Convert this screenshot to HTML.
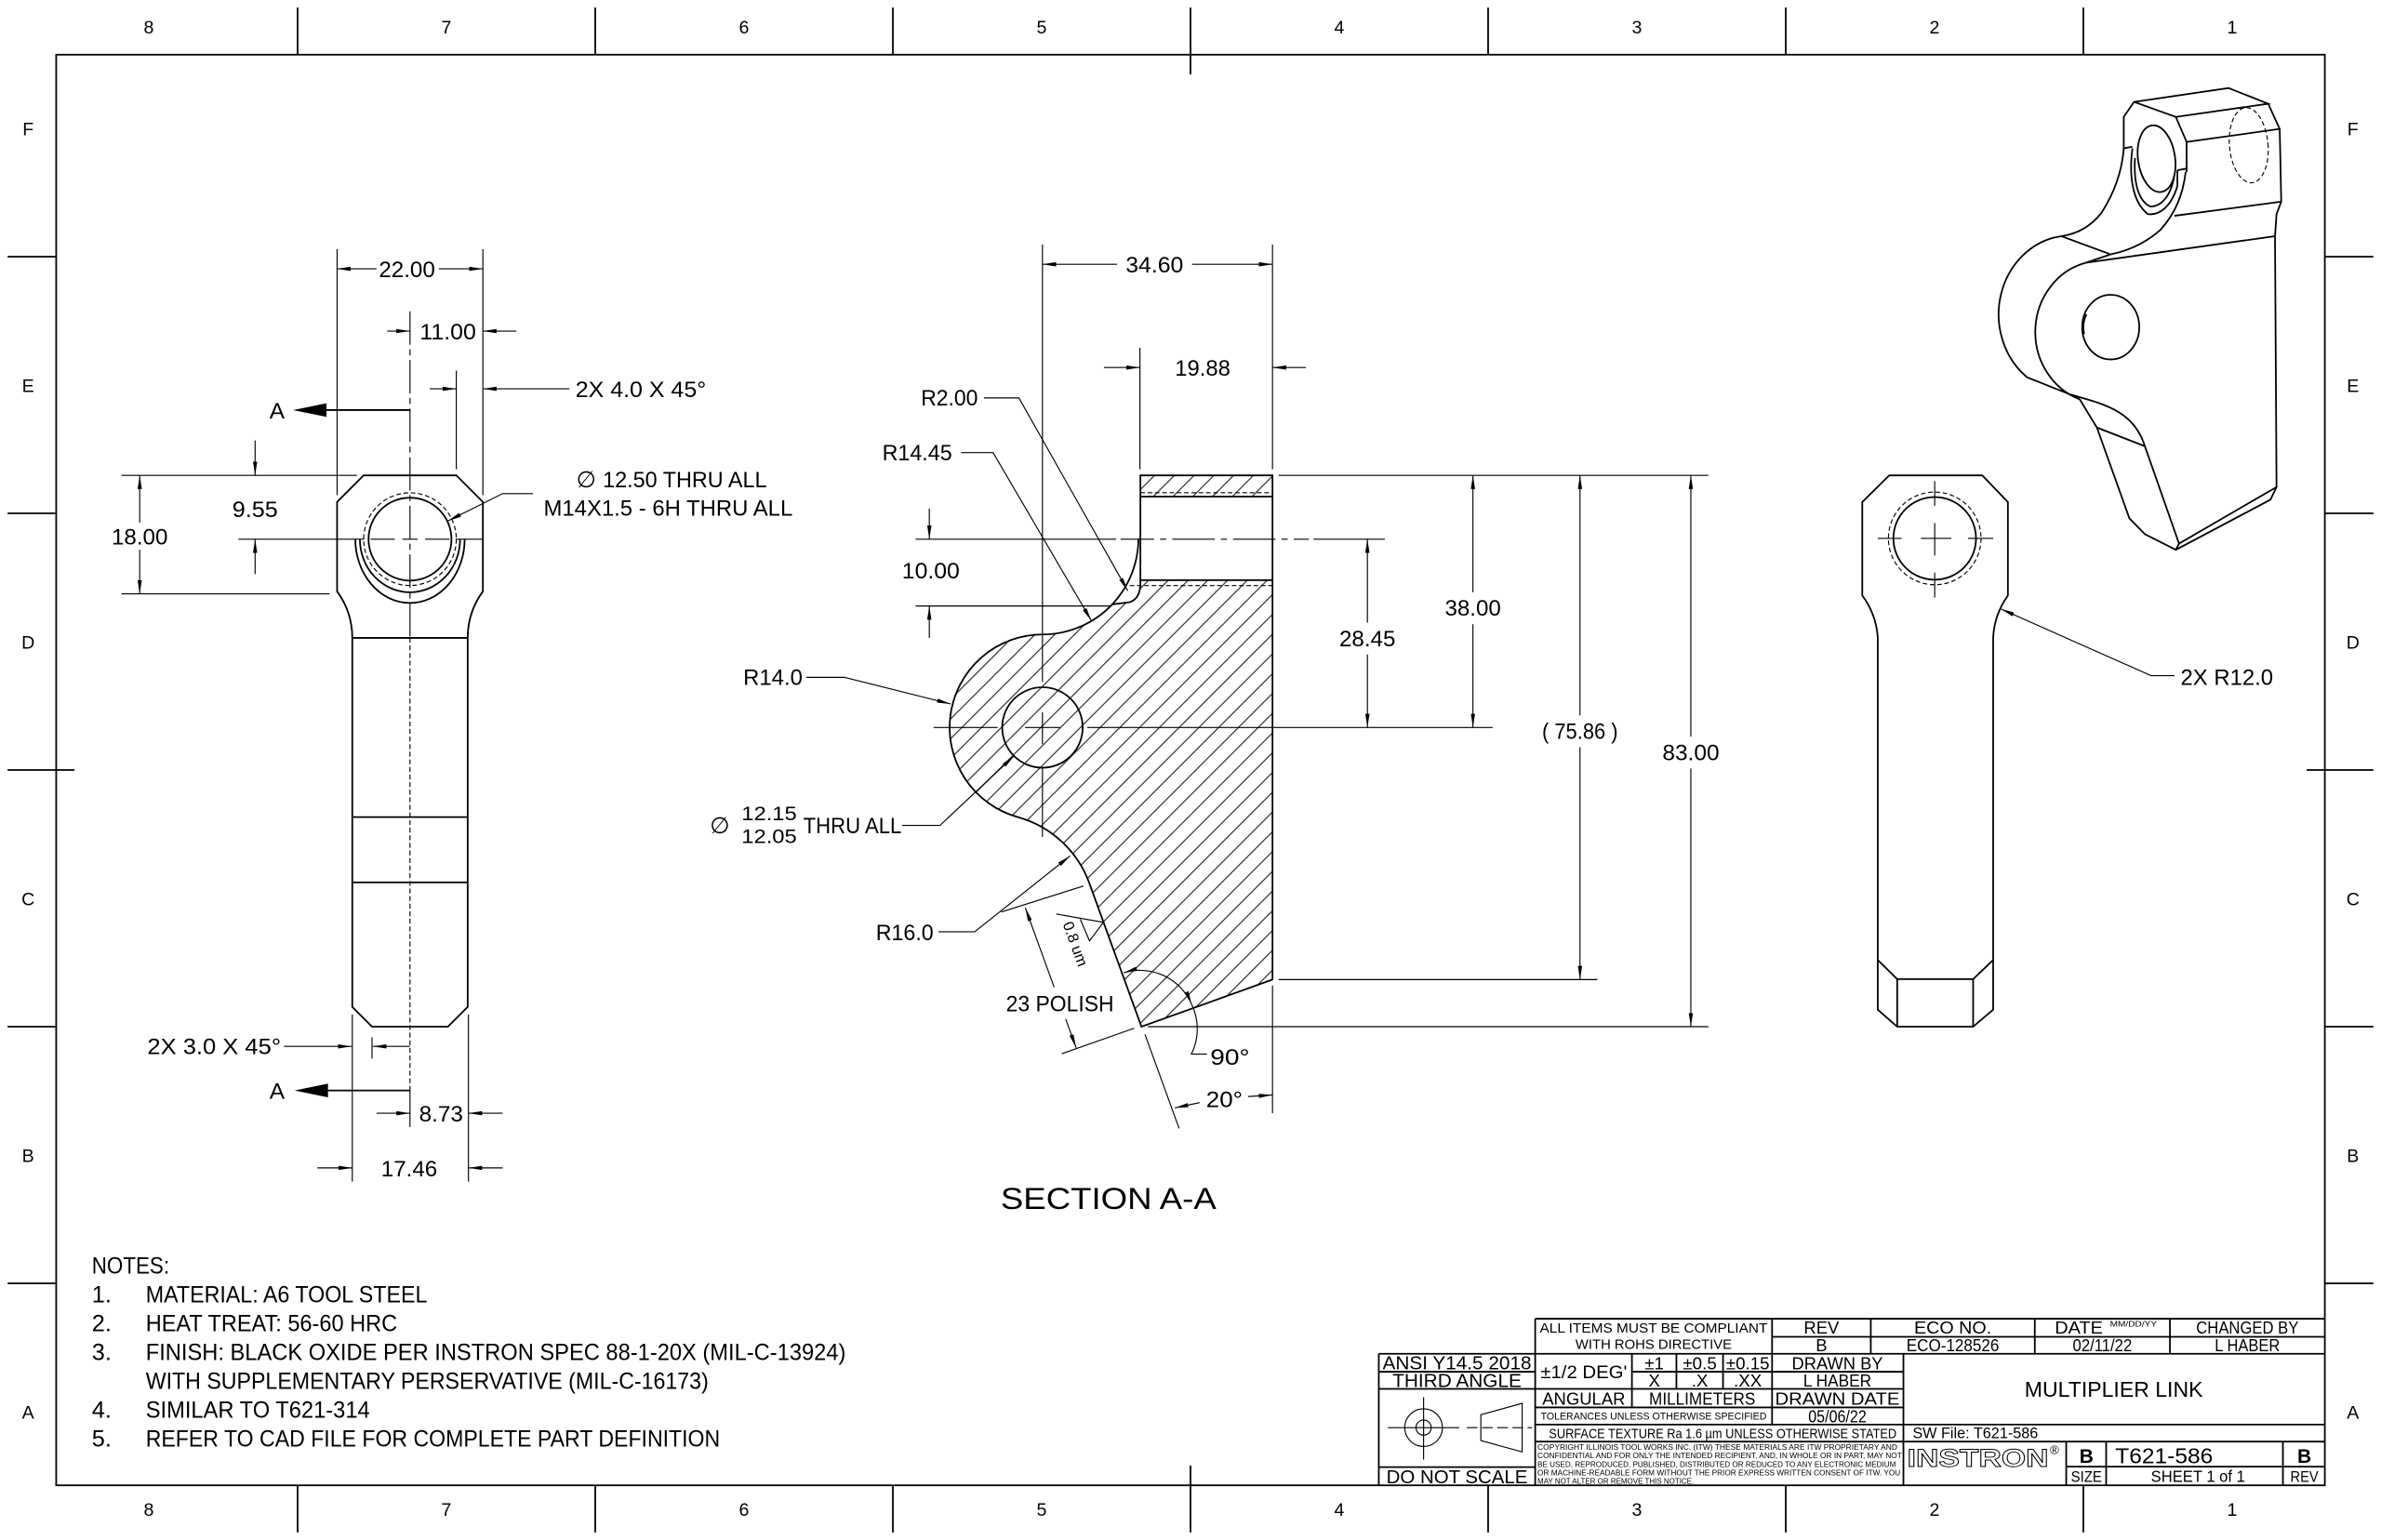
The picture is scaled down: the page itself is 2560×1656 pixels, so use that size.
<!DOCTYPE html>
<html><head><meta charset="utf-8"><style>html,body{margin:0;padding:0;background:#fff}svg{display:block}</style></head>
<body>
<svg xmlns="http://www.w3.org/2000/svg" width="2560" height="1656" viewBox="0 0 1568 1014" preserveAspectRatio="none">
<defs>
<marker id="m" viewBox="0 0 9 2.8" refX="9" refY="1.4" markerWidth="9" markerHeight="2.8" markerUnits="userSpaceOnUse" orient="auto-start-reverse"><path d="M0,0L9,1.4L0,2.8Z" fill="#000"/></marker>
<pattern id="hat" patternUnits="userSpaceOnUse" width="9.2" height="9.2" patternTransform="rotate(45)"><line x1="4.6" y1="-1" x2="4.6" y2="10.2" stroke="#000" stroke-width="0.6"/></pattern>
</defs>
<style>
.k{fill:none;stroke:#000;stroke-width:1.1}
.n{fill:none;stroke:#000;stroke-width:0.7}
.d{stroke-dasharray:3 1.8}
.a{marker-end:url(#m)}
text{font-family:"Liberation Sans",Arial,sans-serif;fill:#000}
.dt{font-size:15px}
.tb{font-size:11.3px}
</style>
<rect x="0" y="0" width="1568" height="1014" fill="#fff"/>

<!-- FRAME -->
<rect x="37" y="36" width="1494" height="942" class="k"/>
<path class="k" d="M196,5V36M392,5V36M588,5V36M784,5V49M980,5V36M1176,5V36M1372,5V36M196,978V1009M392,978V1009M588,978V1009M784,965V1009M980,978V1009M1176,978V1009M1372,978V1009M5,169H37M5,338H37M5,507H49M5,676H37M5,845H37M1531,169H1563M1531,338H1563M1519,507H1563M1531,676H1563M1531,845H1563"/>
<g font-size="12" text-anchor="middle">
<text x="98" y="22">8</text><text x="294" y="22">7</text><text x="490" y="22">6</text><text x="686" y="22">5</text><text x="882" y="22">4</text><text x="1078" y="22">3</text><text x="1274" y="22">2</text><text x="1470" y="22">1</text>
<text x="98" y="998">8</text><text x="294" y="998">7</text><text x="490" y="998">6</text><text x="686" y="998">5</text><text x="882" y="998">4</text><text x="1078" y="998">3</text><text x="1274" y="998">2</text><text x="1470" y="998">1</text>
<text x="18.5" y="89">F</text><text x="18.5" y="258">E</text><text x="18.5" y="427">D</text><text x="18.5" y="596">C</text><text x="18.5" y="765">B</text><text x="18.5" y="934">A</text>
<text x="1549.5" y="89">F</text><text x="1549.5" y="258">E</text><text x="1549.5" y="427">D</text><text x="1549.5" y="596">C</text><text x="1549.5" y="765">B</text><text x="1549.5" y="934">A</text>
</g>

<!-- LEFT VIEW -->
<path class="k" d="M239.5,313H300.5L318,330.5V389.4A52,52 0 0 0 308,420V663L295,676H245L232,663V420A52,52 0 0 0 222,389.4V330.5Z"/>
<path class="k" stroke-width="0.9" d="M232,420H308M232,538H308M232,581H308"/>
<circle cx="270" cy="355" r="27.3" class="k"/>
<circle cx="270" cy="355" r="30.5" class="n d"/>
<path class="k" d="M234,355A36,42 0 0 0 306,355M237,355A33,35 0 0 0 303,355"/>
<path class="n" d="M157,355H240M244,355H260M265,355H275M280,355H296M300,355H318"/>
<line x1="270" y1="205" x2="270" y2="420" class="n" stroke-dasharray="22 3 4 3"/>
<line x1="270" y1="420" x2="270" y2="718" class="n" stroke-dasharray="3.2 1.8"/>
<line x1="270" y1="718" x2="270" y2="742" class="n"/>
<path class="n" d="M222,164V326M318,164V326M300.5,244V309M80,313H235M80,391H217M232,668V778M308.5,668V778M245,683V697"/>
<path class="n a" d="M248,177H222"/><path class="n a" d="M289,177H318"/>
<path class="n a" d="M255,218H270"/><path class="n a" d="M340,218H318"/>
<path class="n a" d="M283,256H300.5"/><path class="n a" d="M375,256H318"/>
<path class="n a" d="M168,290V313"/><path class="n a" d="M168,378V355"/>
<path class="n a" d="M92,344V313"/><path class="n a" d="M92,362V391"/>
<path class="n a" d="M351,325H331L295,343"/>
<path class="n a" d="M187,689H231.5"/><path class="n a" d="M270,689H245.5"/>
<path class="n a" d="M248,733H270"/><path class="n a" d="M331,733H308.5"/>
<path class="n a" d="M209,769H232"/><path class="n a" d="M331,769H308.5"/>
<path d="M193,270L215,265.5V274.5Z" fill="#000"/><line x1="215" y1="270" x2="270" y2="270" class="k"/>
<path d="M194,718L216,713.5V722.5Z" fill="#000"/><line x1="216" y1="718" x2="270" y2="718" class="k"/>
<g class="dt">
<text x="268" y="182.5" text-anchor="middle" textLength="37" lengthAdjust="spacingAndGlyphs">22.00</text>
<text x="295" y="223.5" text-anchor="middle" textLength="37" lengthAdjust="spacingAndGlyphs">11.00</text>
<text x="379" y="261.5" textLength="86" lengthAdjust="spacingAndGlyphs">2X 4.0 X 45°</text>
<text x="177.5" y="275.5">A</text>
<text x="168" y="340.5" text-anchor="middle" textLength="30" lengthAdjust="spacingAndGlyphs">9.55</text>
<text x="92" y="358.5" text-anchor="middle" textLength="37" lengthAdjust="spacingAndGlyphs">18.00</text>
<text x="379.5" y="321">∅</text>
<text x="397" y="321" textLength="108" lengthAdjust="spacingAndGlyphs">12.50 THRU ALL</text>
<text x="358" y="339.5" textLength="164" lengthAdjust="spacingAndGlyphs">M14X1.5 - 6H THRU ALL</text>
<text x="97" y="694" textLength="88" lengthAdjust="spacingAndGlyphs">2X 3.0 X 45°</text>
<text x="177.5" y="723.5">A</text>
<text x="276" y="738.5" textLength="29" lengthAdjust="spacingAndGlyphs">8.73</text>
<text x="269.5" y="774.5" text-anchor="middle" textLength="37" lengthAdjust="spacingAndGlyphs">17.46</text>
</g>

<!-- SECTION VIEW -->
<path fill="url(#hat)" d="M751,382H838V645L751.7,676L717.4,581.6A70,70 0 0 0 670.2,538A61.25,61.25 0 0 1 686.5,417.75A63.2,63.2 0 0 0 732.4,398L744,396.5Q751,394 751,384Z"/>
<rect x="751" y="313" width="87" height="14" fill="url(#hat)"/>
<circle cx="686.5" cy="479" r="26.5" fill="#fff" class="k"/>
<path class="k" d="M751,384V313H838V645L751.7,676L717.4,581.6A70,70 0 0 0 670.2,538A61.25,61.25 0 0 1 686.5,417.75A63.2,63.2 0 0 0 732.4,398L744,396.5Q751,394 751,384"/>
<path class="k" d="M751,327H838M751,382H838"/>
<path class="n d" d="M751,324.4H838M744,385.6H838"/>
<path class="k" d="M732.4,398A63.2,63.2 0 0 0 749.7,354.5"/>
<path class="n" d="M686.5,161V449M686.5,469V490M686.5,505V551M614.8,479H657M675,479H698M716,479H983"/>
<path class="n" d="M738,355H760M764,355H768M772,355H800M804,355H808M812,355H840M844,355H848M852,355H862M865,355H912"/>
<path class="n" d="M838,161V309M750.7,229V309M603,355H735M603,399H732M842,313H1125M842,645H1052M756,676H1125M838,649V733M754,681L776.5,743"/>
<path class="n a" d="M735.7,174H686.5"/><path class="n a" d="M785,174H838"/>
<path class="n a" d="M727,242H750.7"/><path class="n a" d="M860,242H838"/>
<path class="n a" d="M612,335V355"/><path class="n a" d="M612,420V399"/>
<path class="n a" d="M648,262H671L742.7,389"/>
<path class="n a" d="M633,298H654L718.8,408.8"/>
<path class="n a" d="M531,446H556L626,463.5"/>
<path class="n a" d="M594,543.5H619L667.8,497.7"/>
<path class="n a" d="M618,613.5H641.9L704.8,563.5"/>
<path class="n" d="M659.4,600.5L713.4,583.4M699.1,693.9L747,677"/>
<path class="n a" d="M694.2,650L675.2,597.7"/><path class="n a" d="M701.8,671L708.7,689.9"/>
<path class="n" d="M695.6,601.8L726.6,607.3L717.5,619.6L711.4,605.2"/>
<path class="n" marker-start="url(#m)" marker-end="url(#m)" d="M740,640.5A37,37 0 0 1 784.8,661.4"/>
<path class="n" d="M784.8,661.4A37,37 0 0 1 784.6,694H794.8"/>
<path class="n a" d="M790,726L773.6,729.5"/><path class="n a" d="M822,722L838,721"/>
<path class="n a" d="M900.5,410V355"/><path class="n a" d="M900.5,431V479"/>
<path class="n a" d="M970,390V313"/><path class="n a" d="M970,411V479"/>
<path class="n a" d="M1040.5,471V313"/><path class="n a" d="M1040.5,492V645"/>
<path class="n a" d="M1113.5,485V313"/><path class="n a" d="M1113.5,506V676"/>
<g class="dt">
<text x="760.3" y="179.5" text-anchor="middle" textLength="38" lengthAdjust="spacingAndGlyphs">34.60</text>
<text x="792" y="247.5" text-anchor="middle" textLength="36.5" lengthAdjust="spacingAndGlyphs">19.88</text>
<text x="644" y="267" text-anchor="end" textLength="37.5" lengthAdjust="spacingAndGlyphs">R2.00</text>
<text x="627" y="303" text-anchor="end" textLength="46" lengthAdjust="spacingAndGlyphs">R14.45</text>
<text x="613" y="381" text-anchor="middle" textLength="38" lengthAdjust="spacingAndGlyphs">10.00</text>
<text x="528.5" y="451" text-anchor="end" textLength="39" lengthAdjust="spacingAndGlyphs">R14.0</text>
<text x="474" y="548.5" text-anchor="middle">∅</text>
<text x="488.3" y="540" font-size="13" textLength="36.5" lengthAdjust="spacingAndGlyphs">12.15</text>
<text x="488.3" y="555" font-size="13" textLength="36.5" lengthAdjust="spacingAndGlyphs">12.05</text>
<text x="529" y="548.5" textLength="64.7" lengthAdjust="spacingAndGlyphs">THRU ALL</text>
<text x="614.8" y="619" text-anchor="end" textLength="38" lengthAdjust="spacingAndGlyphs">R16.0</text>
<text x="698" y="665.8" text-anchor="middle" textLength="71" lengthAdjust="spacingAndGlyphs">23 POLISH</text>
<text x="797" y="701" textLength="26" lengthAdjust="spacingAndGlyphs">90°</text>
<text x="806.3" y="729" text-anchor="middle" textLength="24" lengthAdjust="spacingAndGlyphs">20°</text>
<text x="900.5" y="425.5" text-anchor="middle" textLength="37" lengthAdjust="spacingAndGlyphs">28.45</text>
<text x="970" y="405.5" text-anchor="middle" textLength="37" lengthAdjust="spacingAndGlyphs">38.00</text>
<text x="1040.5" y="486.5" text-anchor="middle" textLength="50" lengthAdjust="spacingAndGlyphs">( 75.86 )</text>
<text x="1113.5" y="500.5" text-anchor="middle" textLength="37.5" lengthAdjust="spacingAndGlyphs">83.00</text>
</g>
<text transform="translate(708.3,621.5) rotate(70)" y="3.5" text-anchor="middle" font-size="10">0.8 um</text>
<text x="730" y="796" text-anchor="middle" font-size="20" textLength="142" lengthAdjust="spacingAndGlyphs">SECTION A-A</text>

<!-- RIGHT VIEW -->
<path class="k" d="M1244.2,313H1305.4L1322.3,330.6V392.1A52,52 0 0 0 1312.6,419.8V664.8L1299.4,676H1249.4L1236.6,664.8V419.8A52,52 0 0 0 1226.4,392.1V330.6Z"/>
<path class="k" stroke-width="0.9" d="M1236.6,632.1L1249.4,644.7H1299.4L1312.6,632.1M1249.4,644.7V676M1299.4,644.7V676"/>
<circle cx="1274.1" cy="354.5" r="27.2" class="k"/>
<circle cx="1274.1" cy="354.5" r="30.5" class="n d"/>
<path class="n" d="M1236.6,354.5H1252.3M1265,354.5H1285M1296,354.5H1312.6M1274.1,316.8V333M1274.1,344.4V365.8M1274.1,377V393.4"/>
<path class="n a" d="M1432,444.9H1416.6L1317.6,400.9"/>
<text x="1436" y="451" class="dt" textLength="61" lengthAdjust="spacingAndGlyphs">2X R12.0</text>

<!-- ISOMETRIC VIEW -->
<g class="k" stroke-width="0.95">
<path d="M1405.3,67.1L1467.6,58L1493.7,68.3L1432.9,77Z"/>
<path d="M1493.7,68.3L1501.3,84.9L1502.3,132.8L1499.2,141L1498.2,155.5L1499.2,320.7L1495.2,329L1432.9,362L1412.5,351.7L1402.3,341.3L1380.9,281.5L1369.6,262.9"/>
<path d="M1373.7,173A44,47 0 0 0 1369.6,262.9"/>
<path d="M1357.4,155.5A47.5,52 0 0 0 1334.9,248.4L1363.5,259.8C1385,266 1405,270 1412.5,293.8L1435,357.9L1499.2,320.7"/>
<path d="M1432.9,362L1435,357.9M1380.9,281.5L1412.5,293.8"/>
<path d="M1405.3,67.1L1398.6,77V97.7L1404.3,96.6"/>
<path d="M1432.9,77L1440,93.5L1501.3,84.9M1440,93.5V113.2M1433.9,112.1L1439.4,111.1"/>
<path d="M1502.3,132.8L1431.9,142.1"/>
<path d="M1398.6,97.7C1397.5,112 1393,126 1384,140C1377,149 1368,154 1357.4,155.5"/>
<path d="M1439.4,113.2C1437.5,128 1433,140 1422.7,151.4C1413,160 1402,165 1390,167.5L1373.7,173"/>
<path d="M1357.4,155.5L1390,167.5"/>
<path d="M1373.7,173L1498.2,155.5"/>
<ellipse cx="1420.2" cy="104.5" rx="12.2" ry="22.1" transform="rotate(-8 1420.2 104.5)"/>
<path d="M1404.3,97.7C1402,115 1404,133 1414.5,141C1422,142 1430,136 1433.9,122.5L1433.9,112.1"/>
<path d="M1406,104C1405,120 1408,132 1416,136C1424,136 1430,128 1432,115"/>
<ellipse cx="1390" cy="215.4" rx="18.8" ry="21.3"/>
<path d="M1374,207Q1371,213 1372.5,220"/>
</g>
<ellipse cx="1480.9" cy="95.6" rx="12.7" ry="24.8" class="n d" transform="rotate(-5 1480.9 95.6)"/>

<!-- NOTES -->
<g font-size="15.5">
<text x="60.5" y="838.5" textLength="51" lengthAdjust="spacingAndGlyphs">NOTES:</text>
<text x="60.5" y="857.5">1.</text><text x="96" y="857.5" textLength="185.4" lengthAdjust="spacingAndGlyphs">MATERIAL: A6 TOOL STEEL</text>
<text x="60.5" y="876.5">2.</text><text x="96" y="876.5" textLength="165.6" lengthAdjust="spacingAndGlyphs">HEAT TREAT: 56-60 HRC</text>
<text x="60.5" y="895.5">3.</text><text x="96" y="895.5" textLength="461" lengthAdjust="spacingAndGlyphs">FINISH: BLACK OXIDE PER INSTRON SPEC 88-1-20X (MIL-C-13924)</text>
<text x="96" y="914.5" textLength="370.6" lengthAdjust="spacingAndGlyphs">WITH SUPPLEMENTARY PERSERVATIVE (MIL-C-16173)</text>
<text x="60.5" y="933.5">4.</text><text x="96" y="933.5" textLength="147.6" lengthAdjust="spacingAndGlyphs">SIMILAR TO T621-314</text>
<text x="60.5" y="952.5">5.</text><text x="96" y="952.5" textLength="378.2" lengthAdjust="spacingAndGlyphs">REFER TO CAD FILE FOR COMPLETE PART DEFINITION</text>
</g>

<!-- TITLE BLOCK -->
<path class="k" stroke-width="0.8" d="M1011,868.3H1531M1167,880.2H1531M908,891.4H1531M908,903.2H1011M1074.7,903.2H1253.5M908,914.5H1253.5M1011,926.7H1253.5M1011,938H1531M1011,949.2H1531M908,966H1011M1360.7,965.7H1531M1011,868.3V978M908,891.4V978M1167,868.3V938M1232,868.3V891.4M1340,868.3V891.4M1429,868.3V891.4M1253.5,891.4V978M1074.7,891.4V926.7M1104,891.4V914.5M1134.7,891.4V914.5M1360.7,949.2V978M1387,949.2V978M1503.4,949.2V978"/>
<g text-anchor="middle">
<text x="1089" y="877.5" font-size="9.1" textLength="150" lengthAdjust="spacingAndGlyphs">ALL ITEMS MUST BE COMPLIANT</text>
<text x="1089" y="888.3" font-size="9.1" textLength="103" lengthAdjust="spacingAndGlyphs">WITH ROHS DIRECTIVE</text>
<text x="1199.5" y="878" class="tb">REV</text>
<text x="1199.5" y="889.8" class="tb">B</text>
<text x="1286" y="878" class="tb" textLength="51" lengthAdjust="spacingAndGlyphs">ECO NO.</text>
<text x="1286" y="889.8" class="tb" textLength="61" lengthAdjust="spacingAndGlyphs">ECO-128526</text>
<text x="1369" y="878" class="tb" textLength="31.6" lengthAdjust="spacingAndGlyphs">DATE</text>
<text x="1405" y="873.5" font-size="4.8" textLength="31" lengthAdjust="spacingAndGlyphs">MM/DD/YY</text>
<text x="1384.5" y="889.8" class="tb" textLength="39" lengthAdjust="spacingAndGlyphs">02/11/22</text>
<text x="1480" y="878" class="tb" textLength="67.4" lengthAdjust="spacingAndGlyphs">CHANGED BY</text>
<text x="1480" y="889.8" class="tb" textLength="42.9" lengthAdjust="spacingAndGlyphs">L HABER</text>
<text x="959.5" y="901.8" font-size="12.6" textLength="98" lengthAdjust="spacingAndGlyphs">ANSI Y14.5 2018</text>
<text x="959.5" y="913.3" font-size="12.6" textLength="85" lengthAdjust="spacingAndGlyphs">THIRD ANGLE</text>
<text x="959.5" y="976.6" font-size="12.5" textLength="93" lengthAdjust="spacingAndGlyphs">DO NOT SCALE</text>
<text x="1043" y="907.5" font-size="12" textLength="57" lengthAdjust="spacingAndGlyphs">±1/2 DEG'</text>
<text x="1089.4" y="901.6" font-size="11.5">±1</text>
<text x="1119.4" y="901.6" font-size="11.5">±0.5</text>
<text x="1151" y="901.6" font-size="11.5">±0.15</text>
<text x="1089.4" y="913" font-size="11.5">X</text>
<text x="1119.4" y="913" font-size="11.5">.X</text>
<text x="1151" y="913" font-size="11.5">.XX</text>
<text x="1043" y="924.8" class="tb" textLength="54.7" lengthAdjust="spacingAndGlyphs">ANGULAR</text>
<text x="1121" y="924.8" class="tb" textLength="70" lengthAdjust="spacingAndGlyphs">MILLIMETERS</text>
<text x="1089" y="934.8" font-size="6.8" textLength="148.7" lengthAdjust="spacingAndGlyphs">TOLERANCES UNLESS OTHERWISE SPECIFIED</text>
<text x="1210" y="901.5" class="tb" textLength="60" lengthAdjust="spacingAndGlyphs">DRAWN BY</text>
<text x="1210" y="913" class="tb" textLength="44.8" lengthAdjust="spacingAndGlyphs">L HABER</text>
<text x="1210" y="924.8" class="tb" textLength="82" lengthAdjust="spacingAndGlyphs">DRAWN DATE</text>
<text x="1210" y="936.4" class="tb" textLength="38.3" lengthAdjust="spacingAndGlyphs">05/06/22</text>
<text x="1134.5" y="947" font-size="9" textLength="229" lengthAdjust="spacingAndGlyphs">SURFACE TEXTURE Ra  1.6 µm  UNLESS OTHERWISE STATED</text>
<text x="1392" y="919.8" font-size="14.3" textLength="117.4" lengthAdjust="spacingAndGlyphs">MULTIPLIER LINK</text>
<text x="1374" y="963.2" font-size="12.8" font-weight="bold">B</text>
<text x="1374" y="975.8" font-size="10" textLength="20.4" lengthAdjust="spacingAndGlyphs">SIZE</text>
<text x="1447.5" y="975.8" font-size="11" textLength="62" lengthAdjust="spacingAndGlyphs">SHEET 1 of 1</text>
<text x="1517.5" y="963.2" font-size="12.8" font-weight="bold">B</text>
<text x="1517.5" y="975.8" font-size="10" textLength="18.4" lengthAdjust="spacingAndGlyphs">REV</text>
</g>
<text x="1259.5" y="947" font-size="10" textLength="82.7" lengthAdjust="spacingAndGlyphs">SW File: T621-586</text>
<text x="1393" y="963.5" font-size="14.3" textLength="64.3" lengthAdjust="spacingAndGlyphs">T621-586</text>
<text x="1256" y="965.5" font-size="16.5" font-weight="bold" fill="none" stroke="#000" stroke-width="0.55" style="fill:none" textLength="93" lengthAdjust="spacingAndGlyphs">INSTRON</text>
<text x="1350" y="957.5" font-size="8">®</text>
<g font-size="5.3">
<text x="1012.5" y="954.6" textLength="237" lengthAdjust="spacingAndGlyphs">COPYRIGHT ILLINOIS TOOL WORKS INC. (ITW) THESE MATERIALS ARE ITW PROPRIETARY AND</text>
<text x="1012.5" y="960.2" textLength="240" lengthAdjust="spacingAndGlyphs">CONFIDENTIAL AND FOR ONLY THE INTENDED RECIPIENT, AND, IN WHOLE OR IN PART, MAY NOT</text>
<text x="1012.5" y="965.8" textLength="236" lengthAdjust="spacingAndGlyphs">BE USED, REPRODUCED, PUBLISHED, DISTRIBUTED OR REDUCED TO ANY ELECTRONIC MEDIUM</text>
<text x="1012.5" y="971.4" textLength="239" lengthAdjust="spacingAndGlyphs">OR MACHINE-READABLE FORM WITHOUT THE PRIOR EXPRESS WRITTEN CONSENT OF ITW.  YOU</text>
<text x="1012.5" y="977" textLength="103" lengthAdjust="spacingAndGlyphs">MAY NOT ALTER OR REMOVE THIS NOTICE.</text>
</g>
<!-- third angle symbol -->
<circle cx="937.5" cy="940" r="12.4" class="n" stroke-width="0.85"/>
<circle cx="937.5" cy="940" r="5" class="n" stroke-width="0.85"/>
<path class="n" stroke-width="0.85" d="M914,940H961M937.5,920V961"/>
<path class="n" stroke-width="0.85" d="M975.2,931.5L1002.4,924V956L975.2,948.5Z"/>
<path class="n" stroke-width="0.85" stroke-dasharray="7 3" d="M966,940H1009"/>
</svg>
</body></html>
